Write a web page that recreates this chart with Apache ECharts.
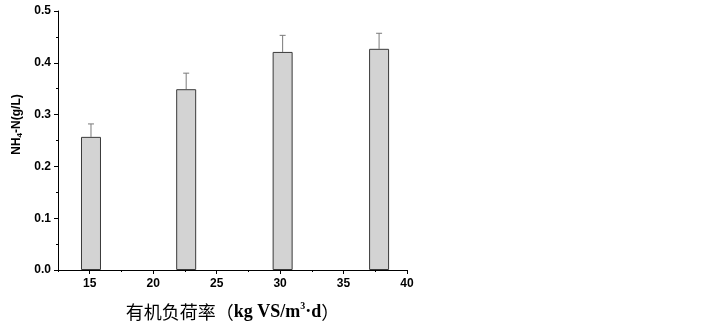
<!DOCTYPE html>
<html>
<head>
<meta charset="utf-8">
<script src="https://cdn.jsdelivr.net/npm/echarts@6/dist/echarts.min.js"></script>
<style>
  html, body { margin: 0; padding: 0; background: #fff; }
  #chart { width: 722px; height: 327px; }
</style>
</head>
<body>
<div id="chart"></div>
<script>
// organic loading rate (x) and NH4-N values
const loadRates = [15.1, 22.6, 30.2, 37.8];
const nh4Values = [0.257, 0.349, 0.421, 0.427];
const errUpper = [0.282, 0.380, 0.453, 0.457];
const xTicks = [15, 20, 25, 30, 35, 40];

const barData = loadRates.map((x, i) => [x, nh4Values[i]]);
const errData = loadRates.map((x, i) => [x, nh4Values[i], errUpper[i]]);

const chart = echarts.init(document.getElementById("chart"));

const labelFont = {
  fontFamily: "Liberation Sans, Arial, sans-serif",
  fontWeight: "bold",
  fontSize: 12,
  color: "#000",
};

chart.setOption({
  animation: false,
  grid: { left: 58, right: 315, top: 11, bottom: 57 },
  xAxis: [
    {
      type: "value",
      min: 12.5,
      max: 40,
      interval: 2.5,
      splitLine: { show: false },
      axisLine: { lineStyle: { color: "#000", width: 1 } },
      axisTick: { customValues: xTicks, length: 4, lineStyle: { color: "#000" } },
      axisLabel: Object.assign({ customValues: xTicks, margin: 8 }, labelFont),
      name: "{cn|有机负荷率（}{b|kg VS/m}{sup|3}{b|·d}{cn|）}",
      nameLocation: "middle",
      nameGap: 31,
      nameTextStyle: {
        rich: {
          cn: { fontFamily: "Noto Sans CJK SC", fontSize: 18, color: "#000" },
          b: { fontFamily: "Liberation Serif", fontWeight: "bold", fontSize: 18, color: "#000" },
          sup: { fontFamily: "Liberation Serif", fontWeight: "bold", fontSize: 10, color: "#000", padding: [0, 0, 13, 0] },
        },
      },
    },
    {
      // minor ticks
      type: "value",
      position: "bottom",
      min: 12.5,
      max: 40,
      interval: 2.5,
      splitLine: { show: false },
      axisLine: { show: false },
      axisTick: { length: 2, lineStyle: { color: "#000" } },
      axisLabel: { show: false },
    },
  ],
  yAxis: {
    type: "value",
    min: 0,
    max: 0.5,
    interval: 0.1,
    splitLine: { show: false },
    axisLine: { show: true, lineStyle: { color: "#000", width: 1 } },
    axisTick: { show: true, length: 4, lineStyle: { color: "#000" } },
    minorTick: { show: true, splitNumber: 2, length: 2, lineStyle: { color: "#000" } },
    axisLabel: Object.assign({ margin: 7, formatter: (v) => v.toFixed(1) }, labelFont),
    name: "{n|NH}{s|4}{n|-N(g/L)}",
    nameLocation: "middle",
    nameRotate: 90,
    nameGap: 34,
    nameTextStyle: {
      padding: [0, 0, 0, 32],
      rich: {
        n: { fontFamily: "Liberation Sans", fontWeight: "bold", fontSize: 12, color: "#000" },
        s: { fontFamily: "Liberation Sans", fontWeight: "bold", fontSize: 8, color: "#000", padding: [7, 0, 0, 0] },
      },
    },
  },
  series: [
    {
      type: "bar",
      data: barData,
      barWidth: 20,
      itemStyle: { color: "#d3d3d3", borderColor: "#3a3a3a", borderWidth: 1 },
    },
    {
      type: "custom",
      data: errData,
      z: 1,
      renderItem: (params, api) => {
        const base = api.coord([api.value(0), api.value(1)]);
        const top = api.coord([api.value(0), api.value(2)]);
        const style = { stroke: "#7a7a7a", lineWidth: 1 };
        return {
          type: "group",
          children: [
            { type: "line", shape: { x1: base[0], y1: base[1], x2: top[0], y2: top[1] }, style },
            { type: "line", shape: { x1: top[0] - 3, y1: top[1], x2: top[0] + 3, y2: top[1] }, style },
          ],
        };
      },
    },
  ],
});
</script>
</body>
</html>
